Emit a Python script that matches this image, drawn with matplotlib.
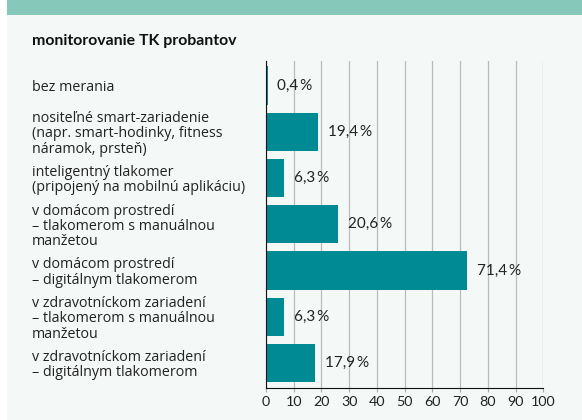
import matplotlib.pyplot as plt
from matplotlib.patches import Rectangle
from matplotlib.transforms import blended_transform_factory

# kategórie (zhora nadol)
kategorie = [
    "bez merania",
    "nositeľné smart-zariadenie\n(napr. smart-hodinky, fitness\nnáramok, prsteň)",
    "inteligentný tlakomer\n(pripojený na mobilnú aplikáciu)",
    "v domácom prostredí\n– tlakomerom s manuálnou\nmanžetou",
    "v domácom prostredí\n– digitálnym tlakomerom",
    "v zdravotníckom zariadení\n– tlakomerom s manuálnou\nmanžetou",
    "v zdravotníckom zariadení\n– digitálnym tlakomerom",
]
# dĺžky stĺpcov odčítané z obrázka
hodnoty = [0.6, 18.8, 6.5, 26.0, 72.5, 6.5, 17.7]
# popisky pri stĺpcoch
popisky = ["0,4\u2009%", "19,4\u2009%", "6,3\u2009%", "20,6\u2009%", "71,4\u2009%", "6,3\u2009%", "17,9\u2009%"]
x_ticks = [0, 10, 20, 30, 40, 50, 60, 70, 80, 90, 100]

W, H = 582, 420
fonty = ["Lato", "DejaVu Sans"]
fig = plt.figure(figsize=(W / 100, H / 100), dpi=100)
fig.patch.set_facecolor("white")

# pozadie panelu a horný pás
fig.add_artist(Rectangle((7 / W, 0), 1 - 7 / W, 1, transform=fig.transFigure,
                         facecolor="#f4f8f7", edgecolor="none", zorder=0))
fig.add_artist(Rectangle((7 / W, 1 - 15 / H), 1 - 7 / W, 15 / H, transform=fig.transFigure,
                         facecolor="#86c9bb", edgecolor="none", zorder=1))

fig.text(32 / W, 1 - 41 / H, "monitorovanie TK probantov", fontsize=11.4,
         fontweight="bold", family=fonty, color="#111111", va="center", ha="left")

ax = fig.add_axes([266 / W, 32 / H, (543.3 - 266) / W, (388.3 - 61.7) / H])
ax.set_facecolor("none")

pozicie = list(range(len(kategorie)))
ax.barh(pozicie, hodnoty, height=0.83, color="#008a94", zorder=3)

for y, v, txt in zip(pozicie, hodnoty, popisky):
    ax.annotate(txt, (v, y), xytext=(7, 0), textcoords="offset points",
                va="center", ha="left", fontsize=11, family=fonty, color="#222222")

# popisky kategórií vľavo, zarovnané na ľavý okraj
trans = blended_transform_factory(fig.transFigure, ax.transData)
for y, kat in zip(pozicie, kategorie):
    ax.annotate(kat, (32 / W, y), xycoords=trans, xytext=(0, -1.5), textcoords="offset points",
                va="center", ha="left", fontsize=10.3,
                family=["Open Sans", "DejaVu Sans"], color="#222222", linespacing=1.02)

ax.set_xlim(0, 100)
ax.set_ylim(6.54, -0.52)
ax.set_xticks(x_ticks)
ax.set_xticklabels([str(t) for t in x_ticks], fontsize=10.3, family=fonty, color="#222222")
ax.set_yticks([])
ax.tick_params(axis="x", length=3, width=0.8, color="#aaaaaa", pad=3)
ax.grid(axis="x", color="#bbbbbb", linewidth=0.9, zorder=0)
ax.set_axisbelow(True)
for s in ["top", "right"]:
    ax.spines[s].set_visible(False)
ax.spines["left"].set_color("#111111")
ax.spines["bottom"].set_color("#111111")
ax.spines["left"].set_zorder(4)

fig.savefig("out.png", dpi=100)
